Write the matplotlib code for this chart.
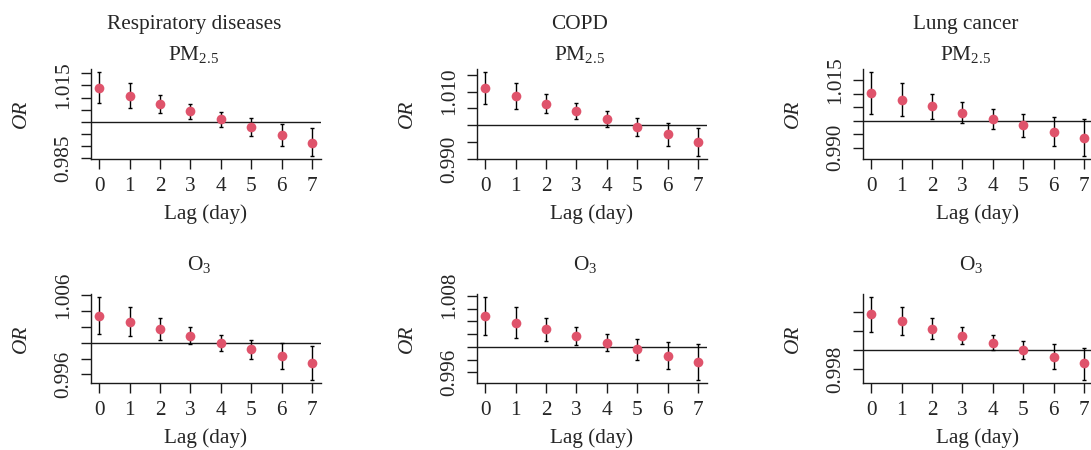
import numpy as np
import matplotlib
matplotlib.use("Agg")
import matplotlib.pyplot as plt

plt.rcParams['font.family'] = ['Liberation Serif', 'DejaVu Serif']
plt.rcParams['mathtext.fontset'] = 'custom'
plt.rcParams['mathtext.rm'] = 'Liberation Serif'
plt.rcParams['mathtext.it'] = 'Liberation Serif:italic'

# ---------------- data ----------------
lags = [0, 1, 2, 3, 4, 5, 6, 7]
lag_labels = ["0", "1", "2", "3", "4", "5", "6", "7"]

diseases = ["Respiratory diseases", "COPD", "Lung cancer"]
pollutants = ["PM$_{2.5}$", "O$_{3}$"]

# PM2.5
resp_pm25_or = [1.0140, 1.0107, 1.0075, 1.0044, 1.0011, 0.9978, 0.9947, 0.9914]
resp_pm25_lo = [1.0077, 1.0058, 1.0036, 1.0010, 0.9980, 0.9943, 0.9900, 0.9859]
resp_pm25_hi = [1.0204, 1.0158, 1.0112, 1.0074, 1.0040, 1.0014, 0.9992, 0.9973]

copd_pm25_or = [1.0110, 1.0086, 1.0064, 1.0042, 1.0019, 0.9995, 0.9973, 0.9950]
copd_pm25_lo = [1.0062, 1.0049, 1.0035, 1.0018, 0.9996, 0.9969, 0.9939, 0.9909]
copd_pm25_hi = [1.0157, 1.0125, 1.0093, 1.0065, 1.0041, 1.0022, 1.0006, 0.9993]

lung_pm25_or = [1.0102, 1.0078, 1.0054, 1.0031, 1.0007, 0.9984, 0.9959, 0.9937]
lung_pm25_lo = [1.0027, 1.0017, 1.0007, 0.9993, 0.9970, 0.9942, 0.9906, 0.9870]
lung_pm25_hi = [1.0180, 1.0139, 1.0101, 1.0069, 1.0043, 1.0027, 1.0014, 1.0006]

# O3
resp_o3_or = [1.00346, 1.00263, 1.00179, 1.00092, 1.00004, 0.99917, 0.99829, 0.99746]
resp_o3_lo = [1.00117, 1.00083, 1.00038, 0.99983, 0.99900, 0.99792, 0.99671, 0.99529]
resp_o3_hi = [1.00583, 1.00450, 1.00317, 1.00200, 1.00104, 1.00042, 1.00000, 0.99954]

copd_o3_or = [1.00479, 1.00376, 1.00273, 1.00175, 1.00067, 0.99964, 0.99856, 0.99758]
copd_o3_lo = [1.00186, 1.00139, 1.00093, 1.00026, 0.99933, 0.99799, 0.99649, 0.99479]
copd_o3_hi = [1.00784, 1.00619, 1.00454, 1.00314, 1.00201, 1.00124, 1.00072, 1.00036]

lung_o3_or = [1.00376, 1.00300, 1.00224, 1.00152, 1.00076, 1.00003, 0.99928, 0.99859]
lung_o3_lo = [1.00190, 1.00155, 1.00114, 1.00066, 1.00000, 0.99903, 0.99800, 0.99686]
lung_o3_hi = [1.00559, 1.00448, 1.00338, 1.00238, 1.00162, 1.00100, 1.00062, 1.00024]

# y ticks and visible tick labels per panel
resp_pm25_yticks = [0.985, 0.990, 0.995, 1.000, 1.005, 1.010, 1.015, 1.020]
resp_pm25_ylabels = ["0.985", "", "", "", "", "", "1.015", ""]
copd_pm25_yticks = [0.990, 0.995, 1.000, 1.005, 1.010, 1.015]
copd_pm25_ylabels = ["0.990", "", "", "", "1.010", ""]
lung_pm25_yticks = [0.990, 0.995, 1.000, 1.005, 1.010, 1.015]
lung_pm25_ylabels = ["0.990", "", "", "", "", "1.015"]
resp_o3_yticks = [0.996, 0.998, 1.000, 1.002, 1.004, 1.006]
resp_o3_ylabels = ["0.996", "", "", "", "", "1.006"]
copd_o3_yticks = [0.996, 0.998, 1.000, 1.002, 1.004, 1.006, 1.008]
copd_o3_ylabels = ["0.996", "", "", "", "", "", "1.008"]
lung_o3_yticks = [0.998, 1.000, 1.002, 1.004]
lung_o3_ylabels = ["0.998", "", "", ""]

panels = [
    [(resp_pm25_or, resp_pm25_lo, resp_pm25_hi, resp_pm25_yticks, resp_pm25_ylabels),
     (copd_pm25_or, copd_pm25_lo, copd_pm25_hi, copd_pm25_yticks, copd_pm25_ylabels),
     (lung_pm25_or, lung_pm25_lo, lung_pm25_hi, lung_pm25_yticks, lung_pm25_ylabels)],
    [(resp_o3_or, resp_o3_lo, resp_o3_hi, resp_o3_yticks, resp_o3_ylabels),
     (copd_o3_or, copd_o3_lo, copd_o3_hi, copd_o3_yticks, copd_o3_ylabels),
     (lung_o3_or, lung_o3_lo, lung_o3_hi, lung_o3_yticks, lung_o3_ylabels)],
]

# ---------------- style ----------------
W, H = 1091, 450
FS = 15.3
TXT = '#262626'
LINE = '#1a1a1a'
PT_COL = '#DF536B'

fig = plt.figure(figsize=(W / 100, H / 100), dpi=100)

col_left = [90.7, 476.7, 862.7]
ax_w = 230.0
row_top = [69.0, 293.5]
row_bot = [159.3, 383.3]

for r in range(2):
    for c in range(3):
        orv, lo, hi, yt, yl = panels[r][c]
        orv = np.array(orv); lo = np.array(lo); hi = np.array(hi)
        left = col_left[c] / W
        bottom = 1 - row_bot[r] / H
        height = (row_bot[r] - row_top[r]) / H
        ax = fig.add_axes([left, bottom, ax_w / W, height])

        ax.axhline(1.0, color=LINE, lw=1.0, zorder=1)
        ax.errorbar(lags, orv, yerr=[orv - lo, hi - orv], fmt='none',
                    ecolor='black', elinewidth=1.0, capsize=1.2, capthick=1.0, zorder=2)
        ax.plot(lags, orv, 'o', color=PT_COL, markersize=7.0, markeredgewidth=0, zorder=3)

        ymin, ymax = lo.min(), hi.max()
        pad = 0.04 * (ymax - ymin)
        ax.set_ylim(ymin - pad, ymax + pad)
        ax.set_xlim(lags[0] - 0.04 * (lags[-1] - lags[0]), lags[-1] + 0.04 * (lags[-1] - lags[0]))

        ax.set_xticks(lags)
        ax.set_xticklabels(lag_labels)
        ax.set_yticks(yt)
        ax.set_yticklabels(yl, rotation=90, va='center')

        for s in ['top', 'right']:
            ax.spines[s].set_visible(False)
        for s in ['left', 'bottom']:
            ax.spines[s].set_color(LINE)
            ax.spines[s].set_linewidth(1.0)
        ax.tick_params(axis='both', direction='out', length=7, width=1.0, color=LINE,
                       labelsize=FS, labelcolor=TXT)
        ax.tick_params(axis='x', pad=6.0)
        ax.tick_params(axis='y', pad=5.5)

        ax.set_xlabel('Lag (day)', fontsize=FS, color=TXT, labelpad=5.8)
        ax.set_ylabel('OR', fontsize=FS, color=TXT, fontstyle='italic')
        ax.yaxis.set_label_coords(-0.262, 0.5)

        ax_h_px = row_bot[r] - row_top[r]
        if r == 0:
            ax.text(0.5 - 12 / ax_w, 1 + (row_top[r] - 29.3) / ax_h_px, diseases[c],
                    transform=ax.transAxes, ha='center', va='baseline', fontsize=FS, color=TXT)
            ax.text(0.5 - 12 / ax_w, 1 + (row_top[r] - 60.0) / ax_h_px, pollutants[0],
                    transform=ax.transAxes, ha='center', va='baseline', fontsize=FS, color=TXT)
        else:
            ax.text(0.5 - 6.5 / ax_w, 1 + (row_top[r] - 270.0) / ax_h_px, pollutants[1],
                    transform=ax.transAxes, ha='center', va='baseline', fontsize=FS, color=TXT)

fig.savefig('out.png', dpi=100)
